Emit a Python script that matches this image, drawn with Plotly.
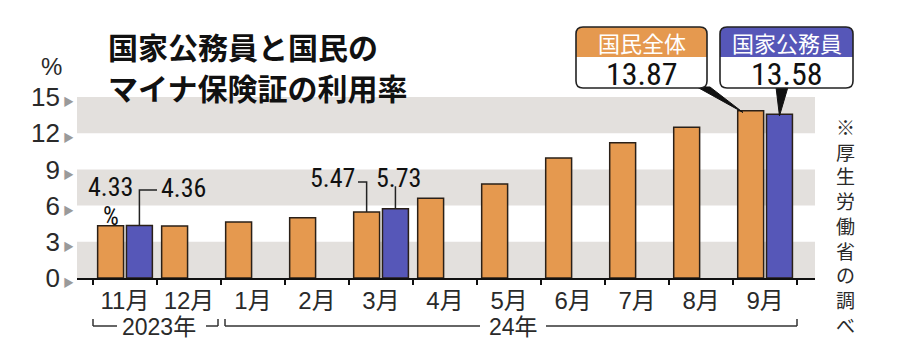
import plotly.graph_objects as go

# ---------------- data ----------------
months = ["11月", "12月", "1月", "2月", "3月", "4月", "5月", "6月", "7月", "8月", "9月"]
national = [4.33, 4.30, 4.65, 5.00, 5.47, 6.60, 7.80, 9.95, 11.20, 12.50, 13.87]
civil = [4.36, None, None, None, 5.73, None, None, None, None, None, 13.58]
ytick_vals = [0, 3, 6, 9, 12, 15]
band_ranges = [(0, 3), (6, 9), (12, 15)]
title_lines = ["国家公務員と国民の", "マイナ保険証の利用率"]
series_names = ["国民全体", "国家公務員"]
year_labels = ["2023年", "24年"]
source_text = "※厚生労働省の調べ"

# ---------------- geometry (screen pixels) ----------------
OFFS = 8                                     # default page body margin
W, H = 900 - OFFS, 364 - OFFS
PL, PR, PT, PB = 77, 815, 97, 278            # plot area on screen
XMIN, XMAX = -0.75, 10.78
YMAX = 15
OFF = 0.225                                  # half-slot offset for grouped bars

ORANGE = "#E5994F"
BLUE = "#5657B8"
BAND = "#E3E0DD"
EDGE = "#2a2018"
TXT = "#2a2a2a"
NUM_FONT = "Liberation Sans Narrow, Roboto Condensed, Liberation Sans, sans-serif"
LAB_FONT = "Liberation Sans, Noto Sans CJK JP, sans-serif"
CJK_FONT = "Noto Sans CJK JP, sans-serif"


def px(xp):
    return (xp - PL) / (PR - PL)


def py(yp):
    return (PB - yp) / (PB - PT)


def xd(x):
    return (x - XMIN) / (XMAX - XMIN)


def yd(y):
    return y / YMAX


def rrect_path(x0, y0, x1, y1, r, top_only=False):
    """rounded rectangle in pixel coords -> path in paper coords"""
    def P(a, b):
        return f"{px(a):.5f},{py(b):.5f}"
    if top_only:
        return (f"M {P(x0, y1)} L {P(x0, y0 + r)} Q {P(x0, y0)} {P(x0 + r, y0)} "
                f"L {P(x1 - r, y0)} Q {P(x1, y0)} {P(x1, y0 + r)} L {P(x1, y1)} Z")
    return (f"M {P(x0 + r, y0)} L {P(x1 - r, y0)} Q {P(x1, y0)} {P(x1, y0 + r)} "
            f"L {P(x1, y1 - r)} Q {P(x1, y1)} {P(x1 - r, y1)} L {P(x0 + r, y1)} "
            f"Q {P(x0, y1)} {P(x0, y1 - r)} L {P(x0, y0 + r)} Q {P(x0, y0)} {P(x0 + r, y0)} Z")


def ann(x, y, text, font, xref="paper", yref="paper", xanchor="center", yanchor="middle",
        **kw):
    d = dict(x=x, y=y, xref=xref, yref=yref, text=text, showarrow=False,
             xanchor=xanchor, yanchor=yanchor, font=font)
    d.update(kw)
    return d


fig = go.Figure()
fig.add_bar(x=months, y=national, name=series_names[0], marker_color=ORANGE,
            marker_line_color=EDGE, marker_line_width=1.5)
fig.add_bar(x=months, y=civil, name=series_names[1], marker_color=BLUE,
            marker_line_color=EDGE, marker_line_width=1.5)

shapes = []
annotations = []

# background bands
for a, b in band_ranges:
    shapes.append(dict(type="rect", xref="paper", yref="y", x0=0, x1=1, y0=a, y1=b,
                       fillcolor=BAND, line_width=0, layer="below"))

# ---- value labels with leader lines ----
vfont = dict(family=NUM_FONT, size=26, color="#111")
i0 = 0
i3 = months.index("3月")
annotations.append(ann(i0 - OFF, 7.55, f"{national[i0]:.2f}", vfont, "x", "y"))
annotations.append(ann(i0 - OFF, 5.1, "%", dict(family=NUM_FONT, size=25, color="#111"),
                       "x", "y"))
shapes.append(dict(type="path", xref="x", yref="y",
                   path=f"M {i0 + OFF},{civil[i0]} L {i0 + OFF},7.3 L {i0 + 0.5},7.3",
                   line=dict(color="#222", width=1.5)))
annotations.append(ann(i0 + 0.53, 7.45, f"{civil[i0]:.2f}", vfont, "x", "y", xanchor="left"))

shapes.append(dict(type="path", xref="x", yref="y",
                   path=f"M {i3 - 0.36},7.95 L {i3 - OFF},7.95 L {i3 - OFF},{national[i3]}",
                   line=dict(color="#222", width=1.5)))
annotations.append(ann(i3 - 0.37, 8.3, f"{national[i3]:.2f}", vfont, "x", "y", xanchor="right"))
shapes.append(dict(type="line", xref="x", yref="y", x0=i3 + OFF, x1=i3 + OFF,
                   y0=civil[i3], y1=7.6, line=dict(color="#222", width=1.5)))
annotations.append(ann(i3 + 0.27, 8.3, f"{civil[i3]:.2f}", vfont, "x", "y"))

# ---- callout boxes for the last month ----
last = len(months) - 1
boxes = [
    (576, 707, ORANGE, series_names[0], national[last], last - OFF - 0.12, 697, 710),
    (720, 853, BLUE, series_names[1], civil[last], last + OFF, 776, 788),
]
for x0, x1, col, name, val, bx, w0, w1 in boxes:
    y0, ym, y1 = 27, 57, 88
    tipx, tipy = xd(bx), yd(val) - 0.01
    shapes.append(dict(type="path", xref="paper", yref="paper",
                       path=f"M {px(w0):.5f},{py(y1 - 1):.5f} L {px(w1):.5f},{py(y1 - 1):.5f} "
                            f"L {tipx:.5f},{tipy:.5f} Z",
                       fillcolor="#111", line=dict(color="#111", width=1)))
    shapes.append(dict(type="path", xref="paper", yref="paper",
                       path=rrect_path(x0, y0, x1, y1, 7), fillcolor="white", line_width=0))
    shapes.append(dict(type="path", xref="paper", yref="paper",
                       path=rrect_path(x0, y0, x1, ym, 7, top_only=True), fillcolor=col,
                       line_width=0))
    shapes.append(dict(type="path", xref="paper", yref="paper",
                       path=rrect_path(x0, y0, x1, y1, 7), line=dict(color="#222", width=1.6)))
    annotations.append(ann(px((x0 + x1) / 2), py(42), name,
                           dict(family=CJK_FONT, size=22, color="white")))
    annotations.append(ann(px((x0 + x1) / 2), py(74.5), f"{val:.2f}",
                           dict(family=NUM_FONT, size=32, color="#111")))

# ---- title ----
for line, yc in zip(title_lines, [46, 87]):
    annotations.append(ann(px(106), py(yc), line,
                           dict(family=CJK_FONT, size=30, color="#111", weight=700),
                           xanchor="left"))

# ---- % unit ----
annotations.append(ann(px(51), py(66), "%", dict(family=LAB_FONT, size=24, color=TXT)))

# ---- year brackets ----
BY = 326
seg_col = dict(color="#333", width=1.5)
for xa, xb in [(93, 117), (206, 218), (225, 480), (546, 797)]:
    shapes.append(dict(type="line", xref="paper", yref="paper", x0=px(xa), x1=px(xb),
                       y0=py(BY), y1=py(BY), line=seg_col))
for xt in [93, 218, 225, 797]:
    shapes.append(dict(type="line", xref="paper", yref="paper", x0=px(xt), x1=px(xt),
                       y0=py(BY), y1=py(BY - 7), line=seg_col))
for lab, xc in zip(year_labels, [159, 513]):
    annotations.append(ann(px(xc), py(BY + 1), lab, dict(family=LAB_FONT, size=23, color=TXT)))

# ---- vertical source note (one glyph per line) ----
annotations.append(ann(px(845), py(225), "<br>".join(source_text),
                       dict(family=CJK_FONT, size=19, color=TXT)))

ytick_text = [f"{v}<span style='color:#9a9a9a;font-size:11px'> ▶</span>" for v in ytick_vals]

fig.update_layout(
    width=W, height=H, autosize=False,
    margin=dict(l=PL - OFFS, r=900 - PR, t=PT - OFFS, b=364 - PB, pad=0),
    paper_bgcolor="white", plot_bgcolor="white",
    barmode="group", bargap=0.1, bargroupgap=0.1,
    showlegend=False,
    shapes=shapes, annotations=annotations,
    xaxis=dict(type="category", range=[XMIN, XMAX], tickson="boundaries",
               ticks="outside", ticklen=5, tickwidth=2, tickcolor="#111",
               showline=True, linewidth=2, linecolor="#111", showgrid=False,
               tickfont=dict(family=LAB_FONT, size=24, color=TXT), automargin=False,
               fixedrange=True),
    yaxis=dict(range=[0, YMAX], tickvals=ytick_vals, ticktext=ytick_text,
               showgrid=False, zeroline=False, showline=False, ticks="",
               tickfont=dict(family=LAB_FONT, size=26, color=TXT), automargin=False,
               ticklabelstandoff=2, fixedrange=True),
)

fig.write_html("out.html")
